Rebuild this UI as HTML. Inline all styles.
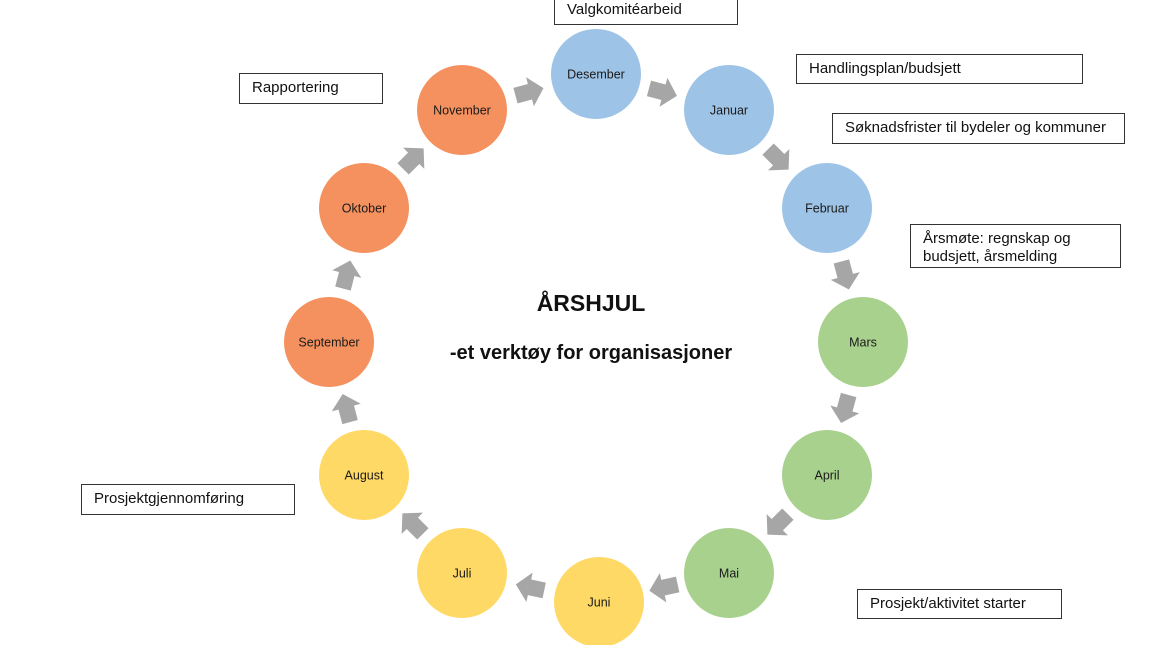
<!DOCTYPE html>
<html><head><meta charset="utf-8"><style>
body{margin:0;background:#fff;width:1160px;height:645px;overflow:hidden;font-family:"Liberation Sans",Arial,sans-serif}
.b{position:absolute;border:1.3px solid #333;background:#fff;font-size:15px;color:#111;box-sizing:border-box;padding:5px 0 0 12px;line-height:18px}
</style></head><body>
<svg id="s" width="1160" height="645" style="position:absolute;left:0;top:0" font-family="Liberation Sans, Arial, sans-serif"></svg>
<div class="b" style="left:554px;top:-6px;width:184px;height:31px;padding-top:6px">Valgkomitéarbeid</div>
<div class="b" style="left:796px;top:54px;width:287px;height:30px">Handlingsplan/budsjett</div>
<div class="b" style="left:832px;top:113px;width:293px;height:31px">Søknadsfrister til bydeler og kommuner</div>
<div class="b" style="left:910px;top:224px;width:211px;height:44px;padding-top:5px;overflow:hidden">Årsmøte: regnskap og budsjett, årsmelding</div>
<div class="b" style="left:239px;top:73px;width:144px;height:31px">Rapportering</div>
<div class="b" style="left:81px;top:484px;width:214px;height:31px">Prosjektgjennomføring</div>
<div class="b" style="left:857px;top:589px;width:205px;height:30px">Prosjekt/aktivitet starter</div>
<div style="position:absolute;left:391px;top:290px;width:400px;text-align:center;font-weight:bold;font-size:23px;color:#111">ÅRSHJUL</div>
<div style="position:absolute;left:391px;top:342px;width:400px;text-align:center;font-weight:bold;font-size:20px;color:#111">-et verktøy for organisasjoner</div>
<script>
var c=[["Desember",596,74,"#9DC3E6"],["Januar",729,110,"#9DC3E6"],["Februar",827,208,"#9DC3E6"],["Mars",863,342,"#A9D18E"],["April",827,475,"#A9D18E"],["Mai",729,573,"#A9D18E"],["Juni",599,602,"#FFD966"],["Juli",462,573,"#FFD966"],["August",364,475,"#FFD966"],["September",329,342,"#F4915E"],["Oktober",364,208,"#F4915E"],["November",462,110,"#F4915E"]];
var s="";
for(var i=0;i<12;i++){var a=c[i],b=c[(i+1)%12];
var mx=(a[1]+b[1])/2,my=(a[2]+b[2])/2,ang=Math.atan2(b[2]-a[2],b[1]-a[1])*180/Math.PI;
s+='<polygon fill="#A6A6A6" transform="translate('+mx+','+my+') rotate('+ang+')" points="-14,-8 1,-8 1,-15 15,0 1,15 1,8 -14,8"/>';}
for(var i=0;i<12;i++){var a=c[i];
s+='<circle cx="'+a[1]+'" cy="'+a[2]+'" r="45" fill="'+a[3]+'"/><text x="'+a[1]+'" y="'+(a[2]+4.5)+'" text-anchor="middle" font-size="12.5" fill="#1a1a1a">'+a[0]+'</text>';}
document.getElementById("s").innerHTML=s;
</script>
</body></html>
